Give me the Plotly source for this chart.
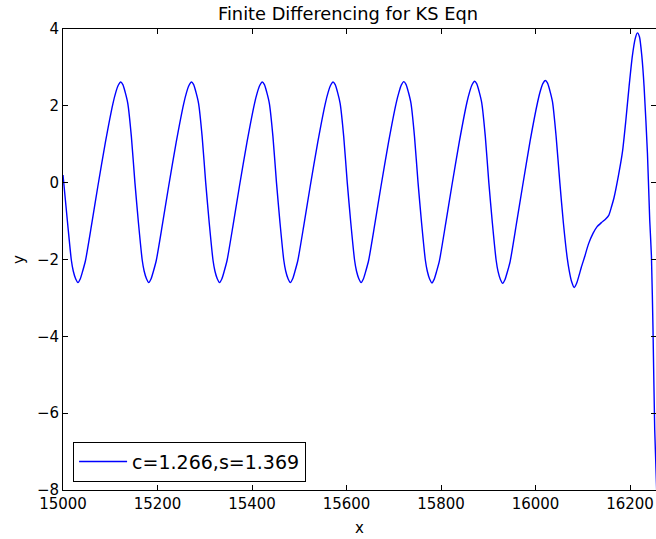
import plotly.graph_objects as go

# Sampled solution u(x) of the Kuramoto-Sivashinsky travelling wave
x_vals = [
    15000.0, 15009.7, 15017.7, 15021.7, 15026.7,
    15031.7, 15036.7, 15041.7, 15047.7, 15060.7, 15073.7, 15089.7, 15105.7, 15111.7, 15116.7, 15122.1, 15126.7, 15131.7, 15137.2, 15144.7, 15152.2, 15159.7, 15167.7, 15171.7, 15176.7,
    15181.5, 15186.5, 15191.5, 15197.5, 15210.5, 15223.5, 15239.5, 15255.5, 15261.5, 15266.5, 15271.9, 15276.5, 15281.5, 15287.0, 15294.5, 15302.0, 15309.5, 15317.5, 15321.5, 15326.5,
    15331.3, 15336.3, 15341.3, 15347.3, 15360.3, 15373.3, 15389.3, 15405.3, 15411.3, 15416.3, 15421.7, 15426.3, 15431.3, 15436.8, 15444.3, 15451.8, 15459.3, 15467.3, 15471.3, 15476.3,
    15481.1, 15486.1, 15491.1, 15497.1, 15510.1, 15523.1, 15539.1, 15555.1, 15561.1, 15566.1, 15571.5, 15576.1, 15581.1, 15586.6, 15594.1, 15601.6, 15609.1, 15617.1, 15621.1, 15626.1,
    15630.9, 15635.9, 15640.9, 15646.9, 15659.9, 15672.9, 15688.9, 15704.9, 15710.9, 15715.9, 15721.3, 15725.9, 15730.9, 15736.4, 15743.9, 15751.4, 15758.9, 15766.9, 15770.9, 15775.9,
    15780.7, 15785.7, 15790.7, 15796.7, 15809.7, 15822.7, 15838.7, 15854.7, 15860.7, 15865.7, 15871.1, 15875.7, 15880.7, 15886.2, 15893.7, 15901.2, 15908.7, 15916.7, 15920.7, 15925.7,
    15930.5, 15935.5, 15940.5, 15946.5, 15959.5, 15972.5, 15988.5, 16004.5, 16010.5, 16015.5, 16020.9, 16025.5, 16030.5, 16036.0, 16043.5, 16051.5, 16059.0, 16067.0, 16071.5, 16076.5,
    16082.0, 16087.0, 16092.0, 16097.0, 16104.0, 16112.0, 16121.7, 16130.0, 16139.4, 16148.0, 16155.0, 16161.0, 16166.0, 16175.0, 16184.0, 16191.0,
    16198.0, 16205.0, 16211.0, 16215.6, 16220.0, 16225.0, 16229.8, 16236.9, 16241.7, 16245.3, 16248.7, 16252.3, 16258.0,
]
y_vals = [
    0.20, -1.05, -2.02, -2.30, -2.50,
    -2.60, -2.50, -2.30, -2.02, -1.08, -0.10, 1.05, 2.06, 2.35, 2.53, 2.62, 2.55, 2.35, 2.06, 1.20, 0.00, -1.05, -2.02, -2.30, -2.50,
    -2.60, -2.50, -2.30, -2.02, -1.08, -0.10, 1.05, 2.06, 2.35, 2.53, 2.62, 2.55, 2.35, 2.06, 1.20, 0.00, -1.05, -2.02, -2.30, -2.50,
    -2.60, -2.50, -2.30, -2.02, -1.08, -0.10, 1.05, 2.06, 2.35, 2.53, 2.62, 2.55, 2.35, 2.06, 1.20, 0.00, -1.05, -2.02, -2.30, -2.50,
    -2.60, -2.50, -2.30, -2.02, -1.08, -0.10, 1.05, 2.06, 2.35, 2.53, 2.62, 2.55, 2.35, 2.06, 1.20, 0.00, -1.05, -2.02, -2.30, -2.50,
    -2.60, -2.50, -2.30, -2.02, -1.08, -0.10, 1.05, 2.06, 2.35, 2.54, 2.63, 2.56, 2.36, 2.07, 1.20, 0.00, -1.05, -2.02, -2.30, -2.51,
    -2.61, -2.51, -2.31, -2.03, -1.08, -0.10, 1.06, 2.08, 2.37, 2.55, 2.64, 2.57, 2.37, 2.08, 1.21, 0.00, -1.05, -2.02, -2.31, -2.52,
    -2.62, -2.52, -2.32, -2.04, -1.08, -0.10, 1.08, 2.10, 2.40, 2.58, 2.66, 2.59, 2.39, 2.10, 1.22, 0.00, -1.05, -1.95, -2.30, -2.58,
    -2.73, -2.62, -2.42, -2.20, -1.93, -1.60, -1.32, -1.15, -1.04, -0.95, -0.85, -0.62, -0.40, 0.15, 0.80, 1.60,
    2.50, 3.30, 3.75, 3.90, 3.80, 3.30, 2.50, 0.76, -0.97, -1.90, -3.84, -6.44, -8.60,
]
series_label = "c=1.266,s=1.369"

x_ticks = [15000, 15200, 15400, 15600, 15800, 16000, 16200]
y_ticks = [-8, -6, -4, -2, 0, 2, 4]
y_tick_text = ["\u22128", "\u22126", "\u22124", "\u22122", "0", "2", "4"]

FONT = "DejaVu Sans"

fig = go.Figure()
fig.add_trace(go.Scatter(
    x=x_vals, y=y_vals, mode="lines", name=series_label,
    line=dict(color="#0000ff", width=1.4, shape="spline", smoothing=0.6),
))

fig.update_layout(
    width=656, height=539,
    margin=dict(l=63, r=0, t=29, b=49),
    paper_bgcolor="white", plot_bgcolor="white",
    font=dict(family=FONT, size=14, color="black"),
    title=dict(text="Finite Differencing for KS Eqn", x=348 / 656, xref="container",
               xanchor="center", y=1 - 14 / 539, yref="container", yanchor="middle",
               font=dict(family=FONT, size=17.8, color="black")),
    showlegend=True,
    legend=dict(x=0.017, y=0.018, xanchor="left", yanchor="bottom",
                bgcolor="white", bordercolor="black", borderwidth=1,
                font=dict(family=FONT, size=19, color="black"),
                itemwidth=48, tracegroupgap=0),
)

fig.update_xaxes(
    range=[15000, 16255], tickvals=x_ticks, ticktext=[str(v) for v in x_ticks],
    ticks="inside", ticklen=5, tickcolor="black", tickwidth=1,
    showline=True, linecolor="black", linewidth=1, mirror="ticks",
    showgrid=False, zeroline=False,
    title=dict(text="x", font=dict(family=FONT, size=15), standoff=10),
    tickfont=dict(family=FONT, size=15),
)
fig.update_yaxes(
    range=[-8, 4], tickvals=y_ticks, ticktext=y_tick_text,
    ticks="inside", ticklen=5, tickcolor="black", tickwidth=1,
    showline=True, linecolor="black", linewidth=1, mirror=False,
    showgrid=False, zeroline=False,
    title=dict(text="y", font=dict(family=FONT, size=15), standoff=8),
    tickfont=dict(family=FONT, size=15),
)

# Right-hand tick marks without a spine line
fig.update_layout(yaxis2=dict(
    overlaying="y", side="right", range=[-8, 4], tickvals=y_ticks,
    ticks="inside", ticklen=5, tickcolor="black", showticklabels=False,
    showline=False, showgrid=False, zeroline=False,
))
fig.add_trace(go.Scatter(x=[None], y=[None], yaxis="y2", showlegend=False, hoverinfo="skip"))

fig.write_html("out.html")
